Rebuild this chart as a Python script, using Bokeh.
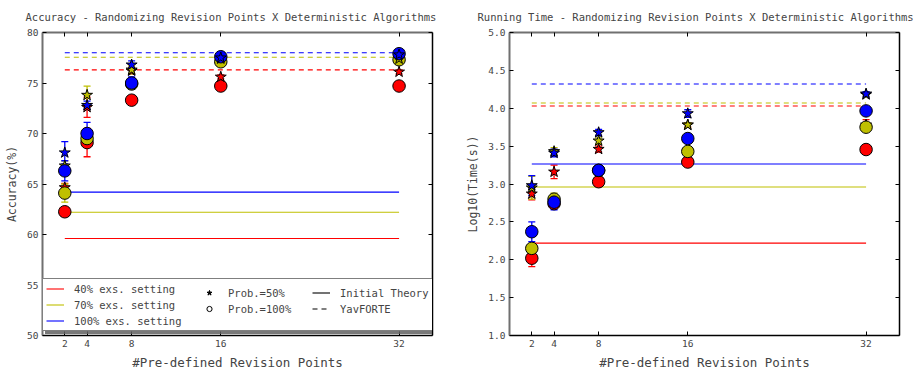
from bokeh.plotting import figure
from bokeh.models import (ColumnDataSource, Whisker, TeeHead, Legend, LegendItem,
                          LinearAxis, FixedTicker, Range1d, NumeralTickFormatter)
from bokeh.layouts import row
from bokeh.embed import file_html
from bokeh.resources import INLINE

FONT = "DejaVu Sans Mono"

points = [2, 4, 8, 16, 32]
settings = ["40% exs. setting", "70% exs. setting", "100% exs. setting"]
colors = ["#FF0000", "#BFBF00", "#0000FF"]

# ---- Accuracy (%) ----
acc_theory = [59.6, 62.2, 64.2]
acc_yav = [76.3, 77.55, 78.0]
acc_p100_40 = [62.25, 69.1, 73.3, 74.7, 74.7]
acc_p100_70 = [64.1, 69.5, 74.9, 77.1, 77.3]
acc_p100_100 = [66.3, 70.0, 75.0, 77.6, 77.9]
acc_p100_err_40 = [0.4, 1.4, 0.2, 0.2, 0.2]
acc_p100_err_70 = [0.9, 0.8, 0.3, 0.2, 0.2]
acc_p100_err_100 = [1.0, 1.1, 0.6, 0.2, 0.2]
acc_p50_40 = [64.65, 72.6, 76.2, 75.6, 76.1]
acc_p50_70 = [66.8, 73.8, 76.3, 77.4, 77.4]
acc_p50_100 = [68.1, 72.8, 76.8, 77.5, 77.8]
acc_p50_err_40 = [0.4, 1.0, 0.3, 0.2, 0.2]
acc_p50_err_70 = [0.5, 0.9, 0.4, 0.2, 0.2]
acc_p50_err_100 = [1.1, 0.4, 0.4, 0.2, 0.2]

# ---- Running time, log10(s) ----
time_theory = [2.22, 2.96, 3.265]
time_yav = [4.03, 4.07, 4.32]
time_p100_40 = [2.02, 2.74, 3.03, 3.29, 3.455]
time_p100_70 = [2.15, 2.80, 3.18, 3.43, 3.75]
time_p100_100 = [2.37, 2.76, 3.18, 3.60, 3.965]
time_p100_err_40 = [0.11, 0.05, 0.02, 0.02, 0.02]
time_p100_err_70 = [0.05, 0.08, 0.02, 0.02, 0.02]
time_p100_err_100 = [0.13, 0.10, 0.02, 0.02, 0.02]
time_p50_40 = [2.87, 3.16, 3.46, 3.78, 3.78]
time_p50_70 = [2.95, 3.43, 3.57, 3.78, 4.18]
time_p50_100 = [2.98, 3.41, 3.68, 3.93, 4.19]
time_p50_err_40 = [0.08, 0.09, 0.04, 0.03, 0.07]
time_p50_err_70 = [0.15, 0.05, 0.04, 0.03, 0.02]
time_p50_err_100 = [0.13, 0.05, 0.04, 0.05, 0.03]

legend_marker_labels = ["Prob.=50%", "Prob.=100%"]
legend_style_labels = ["Initial Theory", "YavFORTE"]


def make_fig(title, ylabel, yr, yticks, theory, yav, p100, p100_err, p50, p50_err,
             border_left, border_right, title_offset, yfmt=None, legend=False):
    p = figure(frame_width=390, frame_height=303, x_range=Range1d(0, 35),
               y_range=Range1d(*yr), output_backend="svg", toolbar_location=None,
               min_border_left=border_left, min_border_right=border_right,
               min_border_top=32, min_border_bottom=30)
    p.title.text = title
    p.title.align = "left"
    p.title.vertical_align = "top"
    p.title.offset = title_offset
    p.title.text_font = FONT
    p.title.text_font_size = "10.5px"
    p.title.text_font_style = "normal"
    p.title.standoff = 16
    p.grid.visible = False
    p.outline_line_color = None
    p.background_fill_color = "white"
    p.border_fill_color = "white"

    p.xaxis.ticker = FixedTicker(ticks=points)
    p.yaxis.ticker = FixedTicker(ticks=yticks)
    if yfmt is not None:
        p.yaxis.formatter = NumeralTickFormatter(format=yfmt)
    p.xaxis.axis_label = "#Pre-defined Revision Points"
    p.yaxis.axis_label = ylabel
    for ax in (p.xaxis[0], p.yaxis[0]):
        ax.major_tick_in = 4
        ax.major_tick_out = 0
        ax.minor_tick_line_color = None
        ax.major_label_text_font = FONT
        ax.major_label_text_font_size = "9.5px"
        ax.axis_label_text_font = FONT
        ax.axis_label_text_font_style = "normal"
        ax.major_label_standoff = 4
        ax.axis_label_standoff = 5
    p.xaxis.axis_label_text_font_size = "12.5px"
    p.yaxis.axis_label_text_font_size = "11.5px"
    p.xaxis.axis_line_color = "black"
    p.xaxis.axis_line_width = 1.5
    p.yaxis.axis_line_color = "#707070"
    p.yaxis.axis_line_width = 2

    top = LinearAxis(ticker=FixedTicker(ticks=points), major_tick_in=4, major_tick_out=0,
                     minor_tick_line_color=None, major_label_text_font_size="0px",
                     major_label_standoff=0, axis_line_color="#707070", axis_line_width=2)
    right = LinearAxis(ticker=FixedTicker(ticks=yticks), major_tick_in=4, major_tick_out=0,
                       minor_tick_line_color=None, major_label_text_font_size="0px",
                       major_label_standoff=0, axis_line_color="black", axis_line_width=1.5)
    p.add_layout(top, "above")
    p.add_layout(right, "right")

    xs_line = [points[0], points[-1]]
    for i, c in enumerate(colors):
        p.line(xs_line, [theory[i], theory[i]], line_color=c, line_width=1.1)
        p.line(xs_line, [yav[i], yav[i]], line_color=c, line_width=1.1, line_dash="5 4")

    for i, c in enumerate(colors):
        for vals, errs, marker, size in ((p100[i], p100_err[i], "circle", 12.5),
                                         (p50[i], p50_err[i], "star", 11.5)):
            src = ColumnDataSource(dict(x=points, y=vals,
                                        lo=[v - e for v, e in zip(vals, errs)],
                                        hi=[v + e for v, e in zip(vals, errs)]))
            w = Whisker(base="x", upper="hi", lower="lo", source=src, line_color=c,
                        line_width=1.3, level="underlay",
                        upper_head=TeeHead(size=7, line_color=c, line_width=1.3),
                        lower_head=TeeHead(size=7, line_color=c, line_width=1.3))
            p.add_layout(w)
            p.scatter("x", "y", source=src, marker=marker, size=size,
                      fill_color=c, line_color="black", line_width=1)

    if legend:
        nan = float("nan")
        proxy = ColumnDataSource(dict(x=[nan], y=[nan]))
        common = dict(label_text_font=FONT, label_text_font_size="10.5px",
                      glyph_width=18, glyph_height=13, label_height=13,
                      label_standoff=10, spacing=3, padding=3, margin=0)
        # shadow box behind the legend
        rs = p.line("x", "y", source=proxy, line_alpha=0)
        shadow_items = [LegendItem(label=" ", renderers=[rs]) for _ in settings]
        lg_s = Legend(items=shadow_items, location=(3, 1), label_width=359,
                      border_line_color=None, background_fill_color="#606060",
                      background_fill_alpha=0.85, label_text_alpha=0, **common)
        items_a = []
        for i, c in enumerate(colors):
            r = p.line("x", "y", source=proxy, line_color=c, line_width=1.1)
            items_a.append(LegendItem(label=settings[i], renderers=[r]))
        r50 = p.scatter("x", "y", source=proxy, marker="star", size=7,
                        fill_color="black", line_color="black")
        r100 = p.scatter("x", "y", source=proxy, marker="circle", size=5,
                         fill_color="white", line_color="black")
        items_b = [LegendItem(label=legend_marker_labels[0], renderers=[r50]),
                   LegendItem(label=legend_marker_labels[1], renderers=[r100])]
        rt = p.line("x", "y", source=proxy, line_color="black", line_width=1.1)
        ry = p.line("x", "y", source=proxy, line_color="black", line_width=1.1,
                    line_dash="5 4")
        items_c = [LegendItem(label=legend_style_labels[0], renderers=[rt]),
                   LegendItem(label=legend_style_labels[1], renderers=[ry])]
        lg_a = Legend(items=items_a, location=(0, 4), label_width=359,
                      border_line_color="black", border_line_width=1.5,
                      background_fill_alpha=1.0, **common)
        lg_b = Legend(items=items_b, location=(158, 20), border_line_color=None,
                      background_fill_alpha=0.0, **common)
        lg_c = Legend(items=items_c, location=(270, 20), border_line_color=None,
                      background_fill_alpha=0.0, **common)
        p.add_layout(lg_s, "center")
        p.add_layout(lg_a, "center")
        p.add_layout(lg_b, "center")
        p.add_layout(lg_c, "center")
    return p


p1 = make_fig("Accuracy - Randomizing Revision Points X Deterministic Algorithms",
              "Accuracy(%)", (50, 80), [50, 55, 60, 65, 70, 75, 80],
              acc_theory, acc_yav,
              [acc_p100_40, acc_p100_70, acc_p100_100],
              [acc_p100_err_40, acc_p100_err_70, acc_p100_err_100],
              [acc_p50_40, acc_p50_70, acc_p50_100],
              [acc_p50_err_40, acc_p50_err_70, acc_p50_err_100],
              42, 26, -17, legend=True)
p2 = make_fig("Running Time - Randomizing Revision Points X Deterministic Algorithms",
              "Log10(Time(s))", (1.0, 5.0), [1.0, 1.5, 2.0, 2.5, 3.0, 3.5, 4.0, 4.5, 5.0],
              time_theory, time_yav,
              [time_p100_40, time_p100_70, time_p100_100],
              [time_p100_err_40, time_p100_err_70, time_p100_err_100],
              [time_p50_40, time_p50_70, time_p50_100],
              [time_p50_err_40, time_p50_err_70, time_p50_err_100],
              51, 15, -32, yfmt="0.0")

layout = row(p1, p2, spacing=0)
open("out.html", "w").write(file_html(layout, INLINE))
